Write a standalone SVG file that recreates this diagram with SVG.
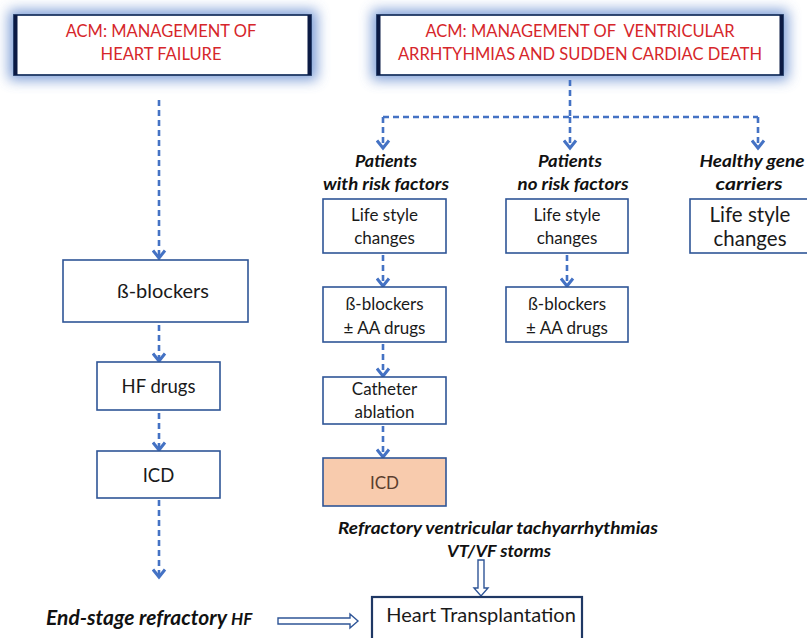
<svg xmlns="http://www.w3.org/2000/svg" width="807" height="638" viewBox="0 0 807 638">
<style>
.hdr{font-family:Lato,"Liberation Sans",sans-serif;font-size:16.5px;fill:#d6262b;text-anchor:middle}
.box{fill:#fff;stroke:#2f5597;stroke-width:1.6}
.t{font-family:Lato,"Liberation Sans",sans-serif;font-size:17px;fill:#1a1a1a;text-anchor:middle}
.tl{font-family:Lato,"Liberation Sans",sans-serif;font-size:18.5px;fill:#1a1a1a;text-anchor:middle}
.lab{font-family:Lato,"Liberation Sans",sans-serif;font-size:17px;font-weight:bold;font-style:italic;fill:#111;text-anchor:middle}
.dash{fill:none;stroke:#4472c4;stroke-width:2.6;stroke-dasharray:6 4}
.hol{fill:#fff;stroke:#2f5597;stroke-width:1.4}
</style>
<defs>
<filter id="glow" x="-20%" y="-40%" width="140%" height="180%">
<feGaussianBlur stdDeviation="6.5"/>
</filter>
<marker id="ah" markerWidth="13" markerHeight="15" viewBox="0 0 13 15" refX="10" refY="7.5" orient="auto" markerUnits="userSpaceOnUse">
<path d="M2.5,1.5 L10,7.5 L2.5,13.5" fill="none" stroke="#4472c4" stroke-width="3"/>
</marker>
</defs>
<rect width="807" height="638" fill="#fff"/>

<g id="hdr-hf">
<rect x="9" y="10" width="308" height="70" fill="#5b84cc" opacity="0.8" filter="url(#glow)"/>
<rect x="14" y="15" width="297" height="60" fill="#fff" stroke="#1f3864" stroke-width="1.8"/>
<rect x="14" y="15" width="3.5" height="60" fill="#0b1a44"/>
<rect x="307.5" y="15" width="3.5" height="60" fill="#0b1a44"/>
<text class="hdr" x="161" y="37">ACM: MANAGEMENT OF</text>
<text class="hdr" x="161" y="60">HEART FAILURE</text>
</g>

<g id="hdr-va">
<rect x="372" y="10" width="416" height="70" fill="#5b84cc" opacity="0.8" filter="url(#glow)"/>
<rect x="377" y="15" width="406" height="60" fill="#fff" stroke="#1f3864" stroke-width="1.8"/>
<rect x="377" y="15" width="3.5" height="60" fill="#0b1a44"/>
<rect x="779.5" y="15" width="3.5" height="60" fill="#0b1a44"/>
<text class="hdr" x="580" y="37" xml:space="preserve">ACM: MANAGEMENT OF  VENTRICULAR</text>
<text class="hdr" x="580" y="60">ARRHTYHMIAS AND SUDDEN CARDIAC DEATH</text>
</g>

<g id="connectors">
<path class="dash" d="M159,100 V258" marker-end="url(#ah)"/>
<path class="dash" d="M159,325 V361" marker-end="url(#ah)"/>
<path class="dash" d="M159,413 V450" marker-end="url(#ah)"/>
<path class="dash" d="M159,500 V577" marker-end="url(#ah)"/>
<path class="dash" d="M570,80 V117"/>
<path class="dash" d="M383,117 H758"/>
<path class="dash" d="M383,117 V148" marker-end="url(#ah)"/>
<path class="dash" d="M570,117 V148" marker-end="url(#ah)"/>
<path class="dash" d="M758,117 V148" marker-end="url(#ah)"/>
<path class="dash" d="M383,255 V286" marker-end="url(#ah)"/>
<path class="dash" d="M567,255 V286" marker-end="url(#ah)"/>
<path class="dash" d="M383,344 V376" marker-end="url(#ah)"/>
<path class="dash" d="M383,426 V457" marker-end="url(#ah)"/>
<path class="hol" d="M278,618 H350 V614 L358,621 L350,628 V624 H278 Z"/>
<path class="hol" d="M478,560 V588 H474 L481,596 L488,588 H484 V560 Z"/>
</g>

<g id="lbl-risk">
<text class="lab" x="386" y="167" textLength="62" lengthAdjust="spacingAndGlyphs">Patients</text>
<text class="lab" x="386" y="190" textLength="126" lengthAdjust="spacingAndGlyphs">with risk factors</text>
</g>
<g id="lbl-norisk">
<text class="lab" x="570" y="167" textLength="64" lengthAdjust="spacingAndGlyphs">Patients</text>
<text class="lab" x="573" y="190" textLength="111" lengthAdjust="spacingAndGlyphs">no risk factors</text>
</g>
<g id="lbl-healthy">
<text class="lab" x="752" y="167" textLength="105" lengthAdjust="spacingAndGlyphs">Healthy gene</text>
<text class="lab" x="749" y="190" textLength="67" lengthAdjust="spacingAndGlyphs">carriers</text>
</g>

<g id="n-life1">
<rect class="box" x="323" y="199" width="123" height="54"/>
<text class="t" x="384.5" y="221">Life style</text>
<text class="t" x="384.5" y="244">changes</text>
</g>
<g id="n-life2">
<rect class="box" x="506" y="199" width="122" height="54"/>
<text class="t" x="567" y="221">Life style</text>
<text class="t" x="567" y="244">changes</text>
</g>
<g id="n-life3">
<rect class="box" x="690" y="199" width="120" height="54"/>
<text class="t" x="750" y="222" style="font-size:20.5px">Life style</text>
<text class="t" x="750" y="246" style="font-size:20.5px">changes</text>
</g>

<g id="n-bb1">
<rect class="box" x="323" y="287" width="123" height="55"/>
<text class="t" x="384.5" y="310">ß-blockers</text>
<text class="t" x="384.5" y="334">± AA drugs</text>
</g>
<g id="n-bb2">
<rect class="box" x="506" y="287" width="122" height="55"/>
<text class="t" x="567" y="310">ß-blockers</text>
<text class="t" x="567" y="334">± AA drugs</text>
</g>
<g id="n-cath">
<rect class="box" x="323" y="377" width="123" height="47"/>
<text class="t" x="384.5" y="395">Catheter</text>
<text class="t" x="384.5" y="418">ablation</text>
</g>
<g id="n-icd2">
<rect x="323" y="458" width="123" height="48" fill="#f8cbad" stroke="#2f5597" stroke-width="1.6"/>
<text class="t" x="384.5" y="489" style="fill:#5a3e2e">ICD</text>
</g>

<g id="n-bbL">
<rect class="box" x="63" y="260" width="185" height="62"/>
<text class="tl" x="163" y="298" style="font-size:20px">ß-blockers</text>
</g>
<g id="n-hf">
<rect class="box" x="97" y="362" width="123" height="48"/>
<text class="tl" x="158.5" y="393">HF drugs</text>
</g>
<g id="n-icdL">
<rect class="box" x="97" y="451" width="123" height="47"/>
<text class="tl" x="158.5" y="482">ICD</text>
</g>

<g id="lbl-refr">
<text class="lab" x="498" y="534" textLength="320" lengthAdjust="spacingAndGlyphs">Refractory ventricular tachyarrhythmias</text>
<text class="lab" x="499" y="557" textLength="104" lengthAdjust="spacingAndGlyphs">VT/VF storms</text>
</g>
<g id="lbl-end">
<text class="lab" x="46" y="625" style="text-anchor:start;font-size:21px">End-stage refractory <tspan style="font-size:17px">HF</tspan></text>
</g>
<g id="n-htx">
<rect x="372" y="597" width="210" height="50" fill="#fff" stroke="#1f3864" stroke-width="2.2"/>
<text class="tl" x="481" y="622" style="font-size:20px">Heart Transplantation</text>
</g>
</svg>
